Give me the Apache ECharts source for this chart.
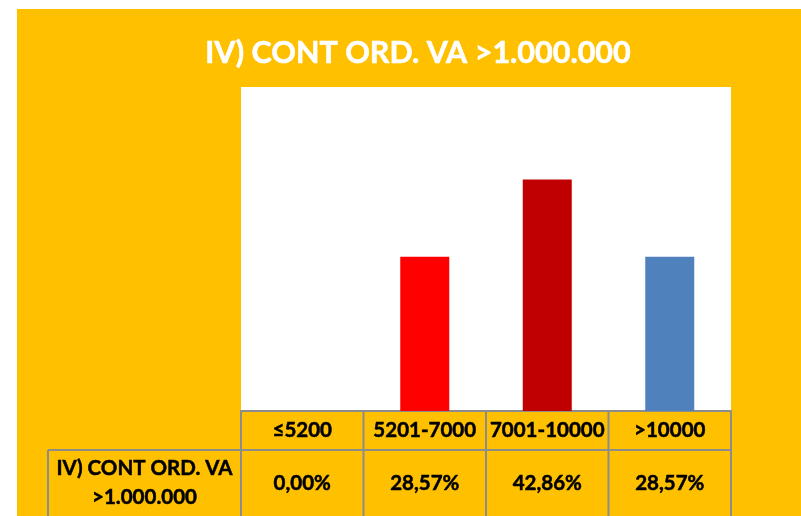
<!DOCTYPE html>
<html>
<head>
<meta charset="utf-8">
<script src="https://cdn.jsdelivr.net/npm/echarts@6/dist/echarts.min.js"></script>
<style>
  html, body { margin: 0; padding: 0; background: #fff; }
  #main { width: 801px; height: 516px; }
</style>
</head>
<body>
<div id="main"></div>
<script>
var titleText = "IV) CONT ORD. VA >1.000.000";
var categories = ["≤5200", "5201-7000", "7001-10000", ">10000"];
var values = [0, 0.2857, 0.4286, 0.2857];
var valueLabels = ["0,00%", "28,57%", "42,86%", "28,57%"];
var barColors = ["#FF0000", "#FF0000", "#C00000", "#4F81BD"];
var rowLabel = ["IV) CONT ORD. VA", ">1.000.000"];

var orange = "#FFC000";
var lineColor = "#8C8C8C";
var font = "Lato, 'Open Sans', sans-serif";

var chart = echarts.init(document.getElementById("main"));

var option = {
  backgroundColor: "#fff",
  animation: false,
  grid: {
    left: 241, right: 70, top: 87, bottom: 105,
    show: true, backgroundColor: "#fff", borderWidth: 0
  },
  xAxis: {
    type: "category",
    data: categories,
    axisLine: { show: true, lineStyle: { color: lineColor, width: 2 } },
    axisTick: { show: false },
    axisLabel: { show: false },
    splitLine: { show: false }
  },
  yAxis: {
    type: "value",
    min: 0,
    max: 0.6,
    show: false,
    splitLine: { show: false }
  },
  series: [{
    type: "bar",
    barWidth: "40%",
    data: values.map(function(v, i) {
      return { value: v, itemStyle: { color: barColors[i] } };
    })
  }]
};
chart.setOption(option);

// data table under the plot, columns taken from the category axis
var c0 = chart.convertToPixel({ xAxisIndex: 0 }, 0);
var c1 = chart.convertToPixel({ xAxisIndex: 0 }, 1);
var band = c1 - c0;
var edges = [];
for (var i = 0; i <= categories.length; i++) {
  edges.push(c0 - band / 2 + i * band);
}
var yTop = chart.convertToPixel({ yAxisIndex: 0 }, 0);
var yMid = yTop + 39;
var yBot = 530;
var leftX = 48;

var g = [{
  type: "rect",
  z: -10,
  silent: true,
  shape: { x: 17, y: 9, width: 784, height: 507 },
  style: { fill: orange }
}, {
  type: "text",
  z: 11,
  silent: true,
  x: 418,
  y: 53,
  style: {
    text: titleText, fill: "#fff", font: "bold 30.5px " + font,
    align: "center", verticalAlign: "middle",
    stroke: "#fff", lineWidth: 0.6
  }
}];
function line(x1, y1, x2, y2) {
  g.push({
    type: "line", z: 10, silent: true,
    shape: { x1: x1, y1: y1, x2: x2, y2: y2 },
    style: { stroke: lineColor, lineWidth: 2 }
  });
}
function text(str, x, y) {
  g.push({
    type: "text", z: 11, silent: true,
    x: x, y: y,
    style: {
      text: str, fill: "#000", font: "bold 20.5px " + font,
      align: "center", verticalAlign: "middle",
      stroke: "#000", lineWidth: 0.5
    }
  });
}
line(edges[0], yMid, edges[edges.length - 1], yMid);
line(leftX, yMid, edges[0], yMid);
line(leftX, yMid, leftX, yBot);
for (var i = 0; i < edges.length; i++) {
  line(edges[i], yTop, edges[i], yBot);
}
for (var i = 0; i < categories.length; i++) {
  var cx = (edges[i] + edges[i + 1]) / 2;
  text(categories[i], cx, (yTop + yMid) / 2);
  text(valueLabels[i], cx, 483);
}
text(rowLabel[0], (leftX + edges[0]) / 2, 468);
text(rowLabel[1], (leftX + edges[0]) / 2, 497);

chart.setOption({ graphic: g });
</script>
</body>
</html>
